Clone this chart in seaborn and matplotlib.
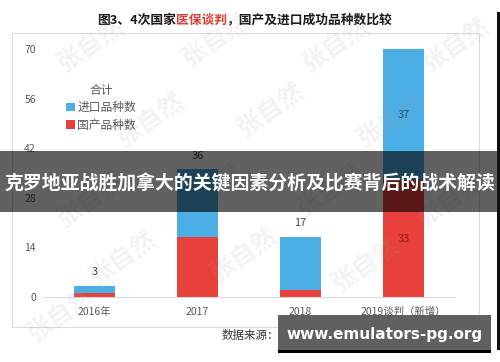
import matplotlib
matplotlib.use("Agg")
import matplotlib.pyplot as plt
import seaborn as sns
import pandas as pd
from matplotlib.patches import Rectangle, Patch

categories = ["2016年", "2017", "2018", "2019谈判（新增）"]
imported = [2, 19, 15, 37]
domestic = [1, 17, 2, 33]
yticks = [0, 14, 28, 42, 56, 70]
series_names = ["进口品种数", "国产品种数"]

BLUE = "#4BAEE4"
RED = "#E8403A"
GRAY = "#595959"

sns.set_theme(style="white")
plt.rcParams["font.family"] = ["Noto Sans CJK SC", "DejaVu Sans"]

W, H = 500, 362
fig = plt.figure(figsize=(5, 3.62), dpi=100)
ax = fig.add_axes([43 / W, 1 - 297 / H, (455 - 43) / W, (297 - 49) / H])

totals = [a + b for a, b in zip(imported, domestic)]
df = pd.DataFrame({"cat": categories, "total": totals, "dom": domestic})
sns.barplot(data=df, x="cat", y="total", color=BLUE, width=0.4, ax=ax,
            saturation=1, linewidth=0)
sns.barplot(data=df, x="cat", y="dom", color=RED, width=0.4, ax=ax,
            saturation=1, linewidth=0)

ax.set_ylim(0, 70)
ax.set_xlim(-0.5, 3.5)
ax.set_yticks(yticks)
ax.set_yticklabels([str(t) for t in yticks])
ax.set_xlabel("")
ax.set_ylabel("")
for s in ["top", "right", "left"]:
    ax.spines[s].set_visible(False)
ax.spines["bottom"].set_color("#d9d9d9")
ax.spines["bottom"].set_linewidth(0.8)
ax.tick_params(axis="x", length=0, pad=7, labelsize=7.5, labelcolor=GRAY)
ax.tick_params(axis="y", length=0, pad=5, labelsize=7.5, labelcolor=GRAY)
ax.patch.set_alpha(0)

# data labels
for i, t in enumerate(totals):
    if i < 3:
        ax.annotate(str(t), (i, t), xytext=(0, 10), textcoords="offset points",
                    ha="center", va="center", fontsize=8, color="#404040")
ax.text(3, domestic[3] + imported[3] / 2, str(imported[3]), ha="center", va="center",
        fontsize=8, color="#1F4E79")
ax.text(3, domestic[3] / 2, str(domestic[3]), ha="center", va="center",
        fontsize=8, color="#8B1A1A")

# legend
handles = [Patch(facecolor=BLUE, edgecolor="none"), Patch(facecolor=RED, edgecolor="none")]
leg = fig.legend(handles, series_names, title="合计", loc="upper left",
                 bbox_to_anchor=(58 / W, 1 - 76 / H), frameon=False,
                 fontsize=8.5, title_fontsize=8.5, handlelength=0.7, handleheight=0.7,
                 handletextpad=0.25, labelspacing=0.35, borderpad=0.2)
for t in leg.get_texts():
    t.set_color(GRAY)
leg.get_title().set_color(GRAY)

# frame
fig.patches.append(Rectangle((12 / W, 1 - 327 / H), (479 - 12) / W, (327 - 33) / H,
                             transform=fig.transFigure, fill=False,
                             edgecolor="#dcdcdc", lw=0.8, zorder=0))

# title with coloured part
fig.canvas.draw()
r = fig.canvas.get_renderer()
parts = [("图3、4次国家", "#1a1a1a"), ("医保谈判", "#E03C31"), ("，国产及进口成功品种数比较", "#1a1a1a")]
x = 97 / W
ty = 1 - 20 / H
for s, c in parts:
    t = fig.text(x, ty, s, color=c, fontsize=9.2, fontweight="bold", ha="left", va="center")
    bb = t.get_window_extent(r)
    x += bb.width / (W)

# source text
fig.text(222 / W, 1 - 336 / H, "数据来源：", fontsize=8.3, color="#333333", ha="left", va="center")

# faint watermarks
wm = [(90, 45), (215, 40), (335, 45), (455, 45),
      (150, 120), (270, 110), (390, 120),
      (90, 200), (210, 190), (330, 190), (450, 200),
      (122, 258), (243, 255), (365, 265), (60, 315)]
for (px, py) in wm:
    fig.text(px / W, 1 - py / H, "张自然", fontsize=18, color="#a0a0a0", alpha=0.12,
             rotation=35, ha="center", va="center", fontweight="bold", zorder=5)

# banner overlay
fig.patches.append(Rectangle((0, 1 - 212 / H), 1, (212 - 151) / H, transform=fig.transFigure,
                             facecolor="black", alpha=0.62, edgecolor="none", zorder=10))
fig.text(0.5, 1 - 184 / H, "克罗地亚战胜加拿大的关键因素分析及比赛背后的战术解读",
         color="white", fontsize=13.6, fontweight="bold", ha="center", va="center", zorder=11)

# url box
fig.patches.append(Rectangle((278 / W, 1 - 353 / H), (491 - 278) / W, (353 - 315) / H,
                             transform=fig.transFigure, facecolor="#575757", alpha=0.95,
                             edgecolor="none", zorder=10))
fig.patches.append(Rectangle((278 / W, 1 - 353 / H), (491 - 278) / W, 3 / H,
                             transform=fig.transFigure, facecolor="black",
                             edgecolor="none", zorder=10))
fig.text(385 / W, 1 - 334 / H, "www.emulators-pg.org", color="white", fontsize=11,
         fontweight="bold", ha="center", va="center", family="DejaVu Sans", zorder=11)

# right dark edge
fig.patches.append(Rectangle((497 / W, 1 - 350 / H), 3 / W, (350 - 12) / H,
                             transform=fig.transFigure, facecolor="#111111",
                             edgecolor="none", zorder=10))

fig.savefig("out.png", dpi=100)
